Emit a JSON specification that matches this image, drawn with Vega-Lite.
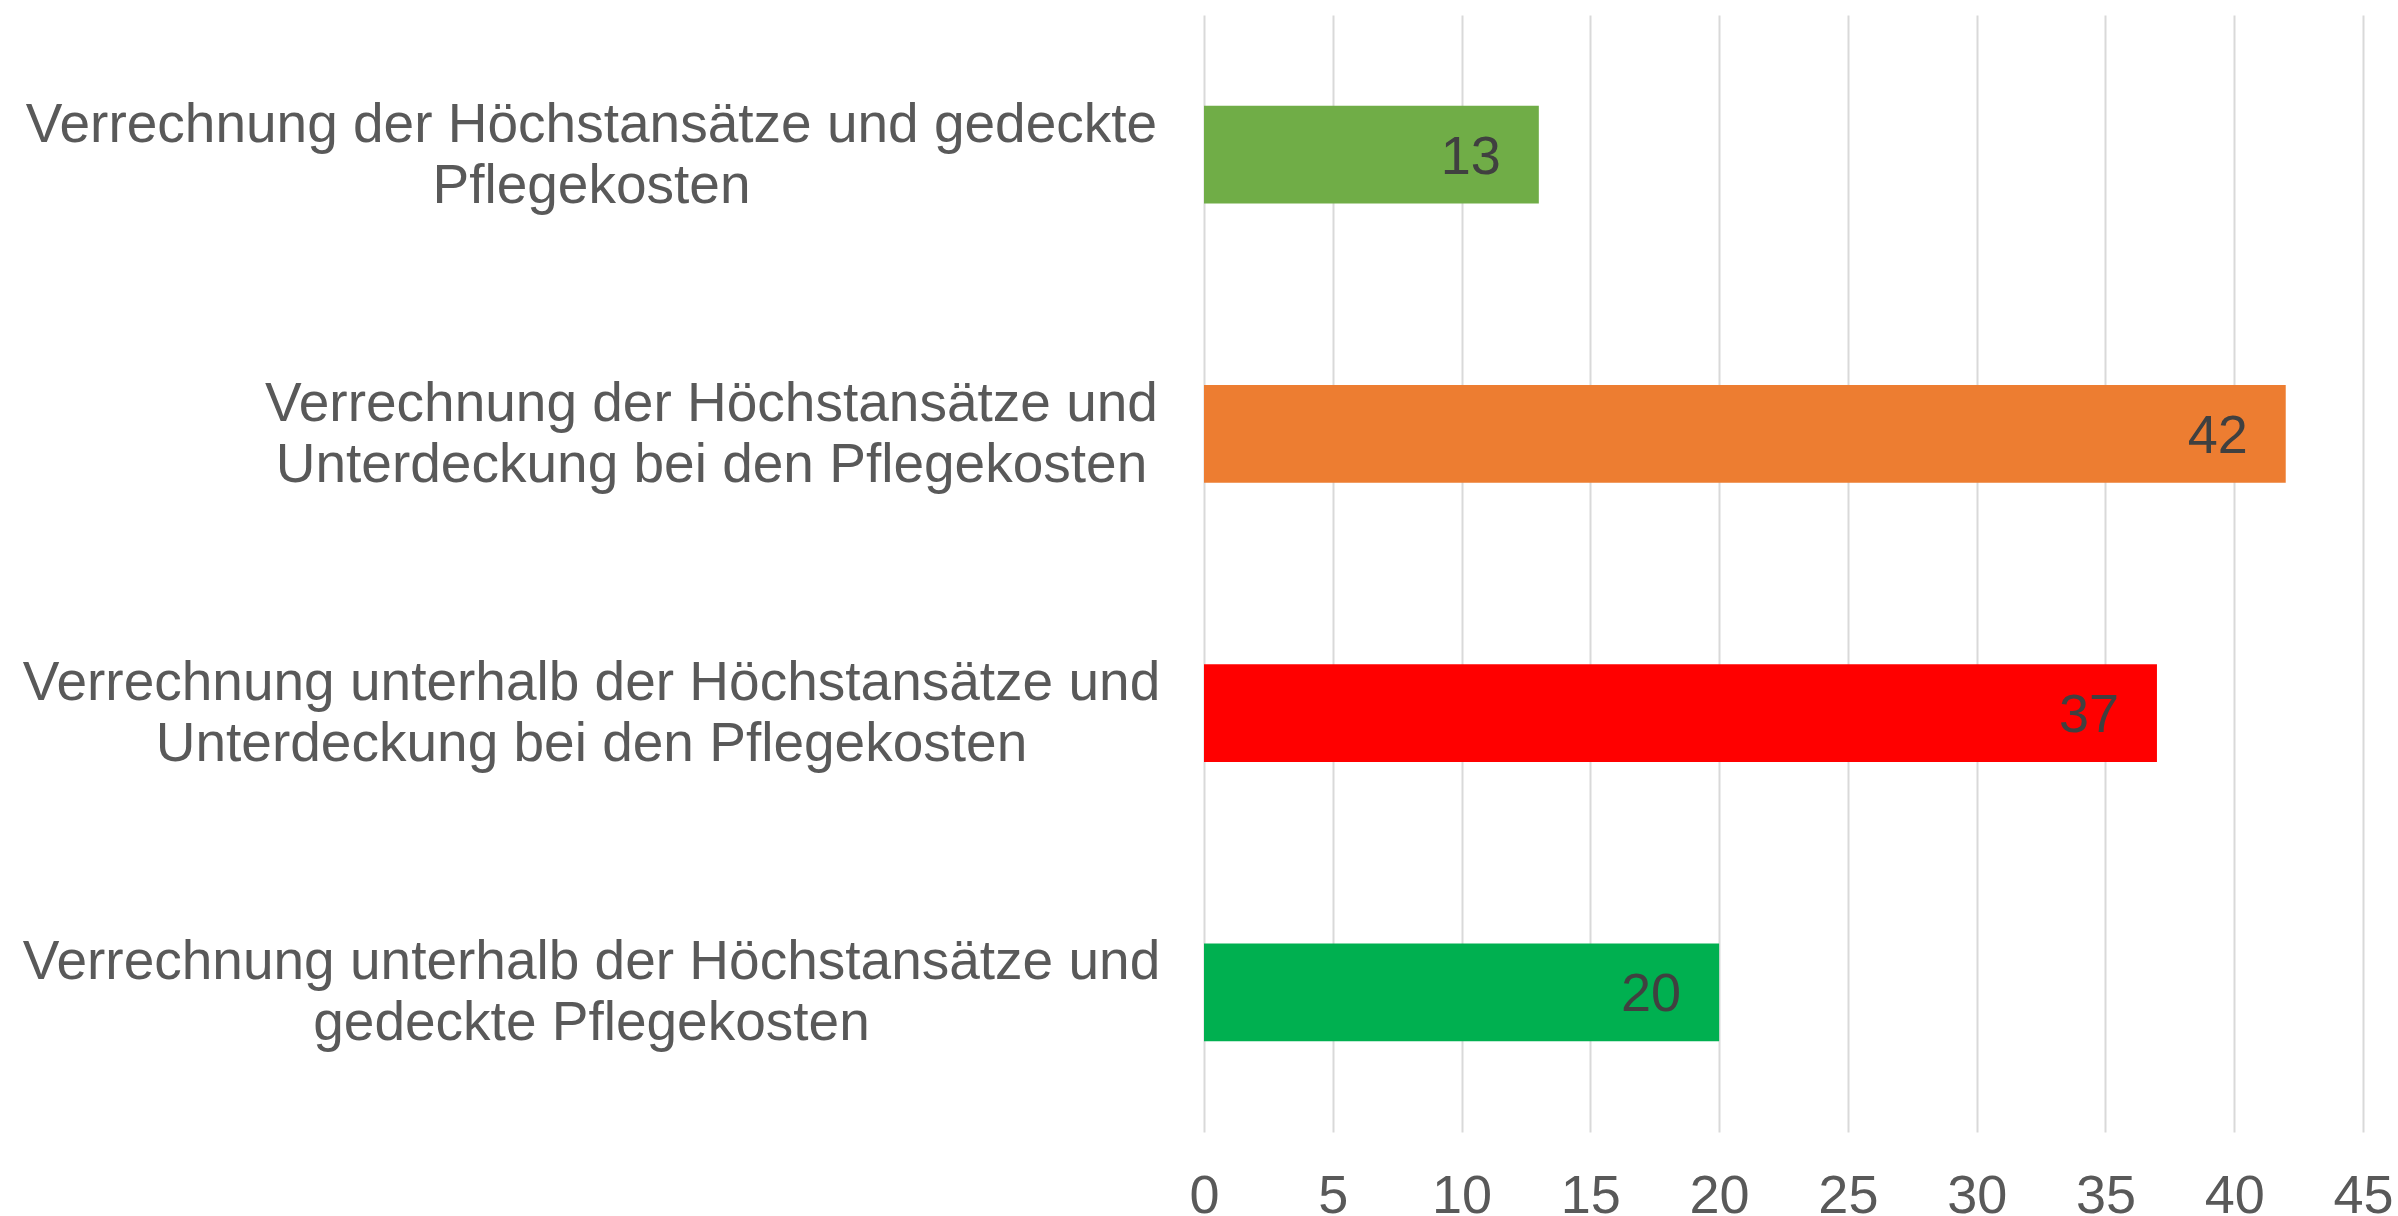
{
  "$schema": "https://vega.github.io/schema/vega-lite/v6.json",
  "width": 1159,
  "height": 1117,
  "autosize": "none",
  "padding": {"left": 1204, "top": 15, "right": 35, "bottom": 84},
  "background": "white",
  "config": {"view": {"stroke": null}, "font": "Liberation Sans"},
  "data": {"values": [
    {"cat": "Verrechnung der Höchstansätze und gedeckte|Pflegekosten", "value": 13},
    {"cat": "Verrechnung der Höchstansätze und|Unterdeckung bei den Pflegekosten", "value": 42},
    {"cat": "Verrechnung unterhalb der Höchstansätze und|Unterdeckung bei den Pflegekosten", "value": 37},
    {"cat": "Verrechnung unterhalb der Höchstansätze und|gedeckte Pflegekosten", "value": 20}
  ]},
  "encoding": {
    "y": {
      "field": "cat", "type": "nominal", "sort": null,
      "scale": {"paddingInner": 0.65, "paddingOuter": 0.325},
      "axis": {
        "title": null, "domain": false, "ticks": false,
        "labelExpr": "split(datum.label, '|')",
        "labelAlign": "center", "labelBaseline": "middle",
        "labelFontSize": 55, "labelColor": "#595959", "labelLineHeight": 61,
        "labelLimit": 3000, "labelOffset": -30,
        "labelPadding": {"condition": {"test": "indexof(datum.value, 'Unterdeckung') >= 0 && indexof(datum.value, 'unterhalb') < 0", "value": 493}, "value": 613}
      }
    },
    "x": {
      "field": "value", "type": "quantitative",
      "scale": {"domain": [0, 45], "nice": false},
      "axis": {
        "title": null, "values": [0, 5, 10, 15, 20, 25, 30, 35, 40, 45],
        "domain": false, "ticks": false, "grid": true, "labelFlush": false,
        "gridColor": "#d9d9d9", "gridWidth": 2,
        "labelFontSize": 54, "labelColor": "#595959", "labelPadding": 37
      }
    }
  },
  "layer": [
    {
      "mark": {"type": "bar"},
      "encoding": {
        "color": {
          "field": "cat", "type": "nominal", "legend": null,
          "scale": {
            "domain": [
              "Verrechnung der Höchstansätze und gedeckte|Pflegekosten",
              "Verrechnung der Höchstansätze und|Unterdeckung bei den Pflegekosten",
              "Verrechnung unterhalb der Höchstansätze und|Unterdeckung bei den Pflegekosten",
              "Verrechnung unterhalb der Höchstansätze und|gedeckte Pflegekosten"
            ],
            "range": ["#70AD47", "#ED7D31", "#FF0000", "#00B050"]
          }
        }
      }
    },
    {
      "mark": {"type": "text", "align": "right", "baseline": "middle", "dx": -38, "dy": 3, "fontSize": 54, "color": "#404040"},
      "encoding": {"text": {"field": "value", "type": "quantitative"}}
    }
  ]
}
